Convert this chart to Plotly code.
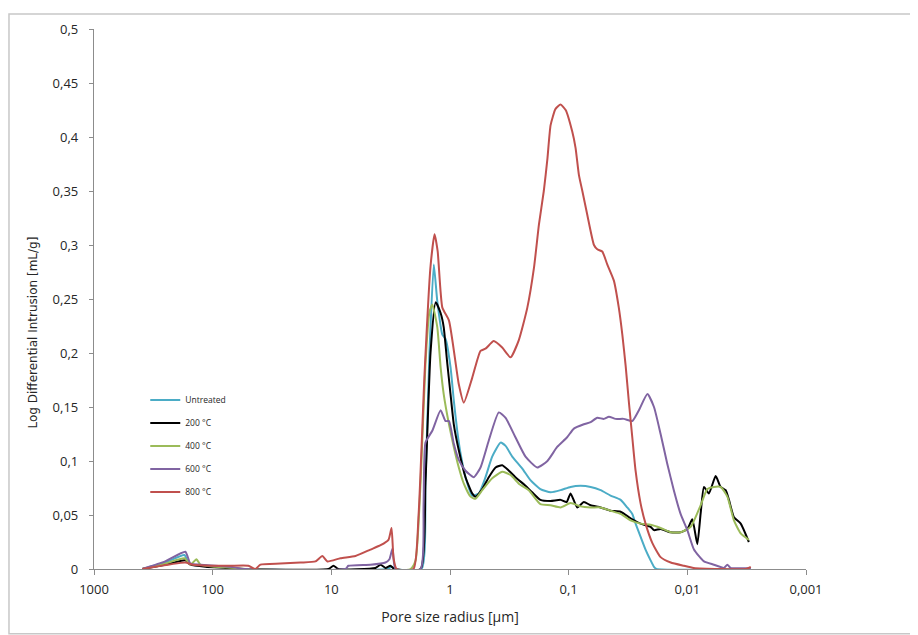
import plotly.graph_objects as go

# ---------------- data (pore radius in µm, log differential intrusion in mL/g) ----------------
series_names = ["Untreated", "200 °C", "400 °C", "600 °C", "800 °C"]

untreated_r = [392, 251, 173, 160, 148, 115, 78, 58, 3.4, 3.1, 2.9, 1.74, 1.61, 1.49, 1.37, 1.28,
               1.16, 1.09, 0.99, 0.929, 0.869, 0.815, 0.740, 0.650, 0.571, 0.502, 0.441, 0.375,
               0.340, 0.299, 0.246, 0.209, 0.173, 0.142, 0.117, 0.0964, 0.0794, 0.0653, 0.0538,
               0.0444, 0.0365, 0.0321, 0.0291, 0.0273, 0.0248, 0.0225, 0.0204, 0.0191, 0.0182, 0.00292]
untreated_v = [0, 0.006, 0.013, 0.006, 0.004, 0.003, 0.002, 0, 0, 0.002, 0, 0, 0.08, 0.20, 0.282, 0.248,
               0.217, 0.213, 0.187, 0.156, 0.128, 0.107, 0.085, 0.068, 0.070, 0.085, 0.104, 0.117,
               0.114, 0.104, 0.093, 0.082, 0.074, 0.071, 0.073, 0.076, 0.077, 0.076, 0.073,
               0.068, 0.064, 0.057, 0.051, 0.042, 0.030, 0.018, 0.008, 0.002, 0, 0]

t200_r = [392, 251, 170, 154, 115, 78, 58, 10.6, 9.6, 8.7, 4.25, 3.85, 3.50, 3.18, 2.94, 1.77, 1.61,
          1.46, 1.32, 1.20, 1.13, 1.06, 0.99, 0.929, 0.843, 0.740, 0.650, 0.610, 0.535, 0.471, 0.413,
          0.363, 0.319, 0.281, 0.231, 0.203, 0.173, 0.142, 0.117, 0.104, 0.0964, 0.0847, 0.0745,
          0.0653, 0.0538, 0.0444, 0.0365, 0.0301, 0.0248, 0.0204, 0.0191, 0.0168, 0.0138, 0.0114,
          0.0100, 0.00908, 0.00824, 0.00773, 0.00724, 0.00658, 0.00577, 0.00524, 0.00475, 0.00446,
          0.00405, 0.00355, 0.00303]
t200_v = [0, 0.004, 0.008, 0.004, 0.002, 0.001, 0, 0, 0.003, 0, 0.001, 0.004, 0.001, 0.003, 0, 0, 0.08,
          0.20, 0.247, 0.237, 0.224, 0.193, 0.162, 0.134, 0.110, 0.085, 0.070, 0.067, 0.074, 0.085, 0.094,
          0.096, 0.091, 0.085, 0.077, 0.071, 0.064, 0.063, 0.064, 0.062, 0.070, 0.057, 0.062,
          0.059, 0.057, 0.054, 0.053, 0.047, 0.042, 0.039, 0.036, 0.037, 0.034, 0.034,
          0.037, 0.046, 0.023, 0.051, 0.076, 0.070, 0.086, 0.076, 0.073, 0.064,
          0.048, 0.042, 0.025]

t400_r = [392, 251, 173, 154, 137, 127, 95, 64, 53, 2.15, 1.95, 1.77, 1.61, 1.49, 1.41, 1.28, 1.20,
          1.13, 1.02, 0.929, 0.843, 0.765, 0.671, 0.610, 0.535, 0.441, 0.363, 0.309, 0.263, 0.217,
          0.173, 0.142, 0.117, 0.0964, 0.0794, 0.0653, 0.0538, 0.0444, 0.0365, 0.0301, 0.0248,
          0.0204, 0.0168, 0.0138, 0.0114, 0.00938, 0.00773, 0.00678, 0.00597, 0.00524, 0.00460,
          0.00405, 0.00355, 0.00303]
t400_v = [0, 0.005, 0.010, 0.004, 0.009, 0.004, 0.002, 0.001, 0, 0, 0.008, 0.08, 0.19, 0.238, 0.245, 0.224, 0.187,
          0.162, 0.134, 0.113, 0.094, 0.079, 0.067, 0.065, 0.073, 0.084, 0.090, 0.087, 0.079, 0.073,
          0.060, 0.059, 0.057, 0.061, 0.058, 0.057, 0.057, 0.054, 0.051, 0.045, 0.042,
          0.041, 0.038, 0.034, 0.034, 0.039, 0.059, 0.074, 0.076, 0.076, 0.067,
          0.045, 0.033, 0.027]

t600_r = [392, 251, 170, 154, 127, 95, 71, 53, 7.6, 7.18, 4.68, 3.50, 3.24, 3.05, 2.88, 1.77, 1.67,
          1.61, 1.41, 1.20, 1.09, 1.02, 0.929, 0.843, 0.740, 0.630, 0.553, 0.471, 0.388, 0.340, 0.281,
          0.231, 0.184, 0.151, 0.125, 0.103, 0.0904, 0.0745, 0.0653, 0.0574, 0.0505, 0.0458, 0.0403,
          0.0343, 0.0291, 0.0256, 0.0217, 0.0191, 0.0168, 0.0148, 0.0130, 0.0114, 0.0100, 0.00879,
          0.00724, 0.00597, 0.00491, 0.00460, 0.00432, 0.00292]
t600_v = [0, 0.007, 0.016, 0.005, 0.004, 0.003, 0.002, 0, 0, 0.003, 0.004, 0.006, 0.009, 0.019, 0, 0, 0.06,
          0.117, 0.128, 0.147, 0.137, 0.137, 0.116, 0.101, 0.091, 0.085, 0.094, 0.119, 0.145, 0.140, 0.122,
          0.104, 0.094, 0.100, 0.113, 0.122, 0.130, 0.134, 0.136, 0.140, 0.139, 0.141, 0.139,
          0.139, 0.137, 0.147, 0.162, 0.150, 0.125, 0.098, 0.073, 0.051, 0.036, 0.018,
          0.007, 0.004, 0.001, 0.004, 0.001, 0.001]

t800_r = [392, 170, 148, 104, 71, 50, 43.6, 39.6, 26.9, 18.2, 13.6, 11.9, 10.8, 8.38, 6.26, 4.68, 3.85,
          3.30, 3.11, 2.99, 2.82, 2.03, 1.84, 1.64, 1.46, 1.35, 1.27, 1.16, 1.02, 0.843, 0.765, 0.650,
          0.553, 0.502, 0.428, 0.363, 0.309, 0.263, 0.223, 0.196, 0.178, 0.162, 0.151, 0.142, 0.129,
          0.117, 0.106, 0.0933, 0.0875, 0.0820, 0.0767, 0.0697, 0.0612, 0.0574, 0.0521, 0.0473,
          0.0416, 0.0378, 0.0353, 0.0331, 0.0310, 0.0291, 0.0273, 0.0248, 0.0225, 0.0197, 0.0168,
          0.0138, 0.0107, 0.00885, 0.00524, 0.00322, 0.00292]
t800_v = [0, 0.006, 0.004, 0.003, 0.003, 0.003, 0, 0.004, 0.005, 0.006, 0.007, 0.012, 0.007, 0.010, 0.012, 0.018, 0.022,
          0.027, 0.038, 0.010, 0, 0, 0.05, 0.18, 0.28, 0.31, 0.294, 0.242, 0.230, 0.171, 0.154, 0.177,
          0.202, 0.204, 0.211, 0.205, 0.196, 0.212, 0.242, 0.279, 0.319, 0.350, 0.380, 0.411, 0.426,
          0.430, 0.425, 0.405, 0.390, 0.365, 0.350, 0.328, 0.300, 0.296, 0.294, 0.282,
          0.267, 0.242, 0.217, 0.188, 0.153, 0.122, 0.091, 0.061, 0.042, 0.024, 0.011,
          0.006, 0.003, 0.001, 0, 0, 0.002]

x_tick_vals = [1000, 100, 10, 1, 0.1, 0.01, 0.001]
x_tick_text = ["1000", "100", "10", "1", "0,1", "0,01", "0,001"]
y_tick_vals = [0, 0.05, 0.1, 0.15, 0.2, 0.25, 0.3, 0.35, 0.4, 0.45, 0.5]
y_tick_text = ["0", "0,05", "0,1", "0,15", "0,2", "0,25", "0,3", "0,35", "0,4", "0,45", "0,5"]

colors = ["#4BACC6", "#000000", "#9BBB59", "#8064A2", "#C0504D"]

# ---------------- figure ----------------
radii = [untreated_r, t200_r, t400_r, t600_r, t800_r]
values = [untreated_v, t200_v, t400_v, t600_v, t800_v]

fig = go.Figure()
for name, r, v, c in zip(series_names, radii, values, colors):
    fig.add_trace(go.Scatter(
        x=r, y=v, mode="lines", name=name, legendgroup=name,
        line=dict(color=c, width=2, shape="spline", smoothing=0.5),
    ))

axis_col = "#8C8C8C"
tick_font = dict(family="Open Sans, Lato, sans-serif", size=13, color="#262626")

fig.update_layout(
    width=910, height=627,
    margin=dict(l=86, r=112, t=18, b=66),
    paper_bgcolor="white", plot_bgcolor="white",
    separators=", ",
    showlegend=True,
    legend=dict(
        x=0.072, y=0.34, xanchor="left", yanchor="top",
        font=dict(family="Open Sans, Lato, sans-serif", size=8.5, color="#262626"),
        bgcolor="rgba(0,0,0,0)", borderwidth=0, itemwidth=30,
        tracegroupgap=4,
    ),
    xaxis=dict(
        type="log", range=[3, -3],
        tickvals=x_tick_vals, ticktext=x_tick_text,
        ticks="outside", ticklen=5, tickcolor=axis_col, tickwidth=1,
        showline=True, linecolor=axis_col, linewidth=1.3,
        showgrid=False, zeroline=False,
        tickfont=tick_font, ticklabelstandoff=3,
        title=dict(text="Pore size radius [µm]",
                   font=dict(family="Open Sans, Lato, sans-serif", size=14, color="#262626"),
                   standoff=15),
    ),
    yaxis=dict(
        range=[0, 0.5],
        tickvals=y_tick_vals, ticktext=y_tick_text,
        ticks="outside", ticklen=4, tickcolor=axis_col, tickwidth=1,
        showline=True, linecolor=axis_col, linewidth=1.3,
        showgrid=False, zeroline=False,
        tickfont=tick_font, ticklabelstandoff=8,
    ),
    annotations=[dict(
        text="Log Differential Intrusion [mL/g]", textangle=-90,
        xref="paper", yref="paper", x=-0.0857, y=0.438,
        xanchor="center", yanchor="middle", showarrow=False,
        font=dict(family="DejaVu Sans, Verdana, sans-serif", size=12, color="#262626"),
    )],
    shapes=[dict(
        type="rect", xref="paper", yref="paper",
        x0=-0.1194, x1=1.1489, y0=-0.1197, y1=1.0276,
        line=dict(color="#C8C8C8", width=1.5), fillcolor="rgba(0,0,0,0)", layer="below",
    )],
)

fig.write_html("out.html")
